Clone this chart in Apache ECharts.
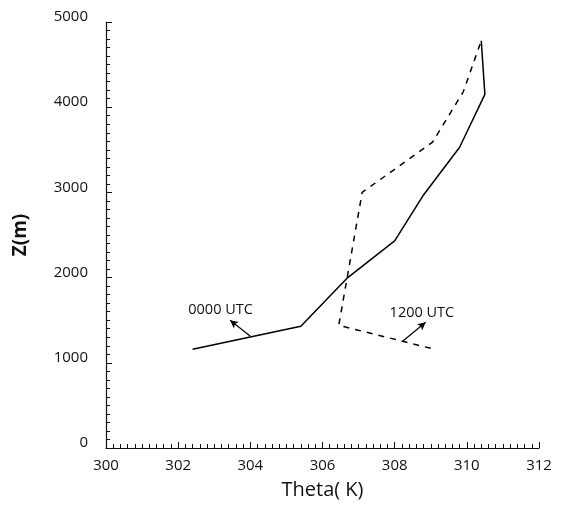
<!DOCTYPE html>
<html>
<head>
<meta charset="utf-8">
<script src="https://cdn.jsdelivr.net/npm/echarts@6/dist/echarts.min.js"></script>
<style>
  html, body { margin: 0; padding: 0; background: #fff; }
  #chart { width: 563px; height: 505px; }
</style>
</head>
<body>
<div id="chart"></div>
<script>
// Potential temperature profiles (Theta in K vs height Z in m)
const profile0000 = [
  [302.4, 1160], [305.4, 1430], [306.7, 2000], [308.0, 2430],
  [308.8, 2970], [309.8, 3530], [310.5, 4150], [310.4, 4780]
];
const profile1200 = [
  [309.0, 1170], [306.45, 1440], [307.1, 3000], [309.05, 3590],
  [309.9, 4180], [310.4, 4780]
];

// Annotation labels and their pointer arrows (data coordinates)
const labelNames = ['0000 UTC', '1200 UTC'];
const labelAnchors = [[302.28, 1616], [307.86, 1581]];
const arrowFrom = [[304.0, 1311], [308.22, 1253]];
const arrowTo = [[303.44, 1499], [308.86, 1475]];

const xTicks = [300, 312, 2];
const yTicks = [0, 5000, 1000];

const font = 'Open Sans';
const chart = echarts.init(document.getElementById('chart'));

function arrow(i) {
  return {
    silent: true,
    symbol: ['none', 'arrow'],
    symbolSize: [6, 8],
    label: { show: false },
    lineStyle: { color: '#000', width: 1.2, type: 'solid' },
    data: [[{ coord: arrowFrom[i] }, { coord: arrowTo[i] }]]
  };
}

chart.setOption({
  animation: false,
  grid: { left: 106, right: 24, top: 22, bottom: 54 },
  xAxis: {
    type: 'value', min: xTicks[0], max: xTicks[1], interval: xTicks[2],
    name: 'Theta( K)', nameLocation: 'middle', nameGap: 32,
    nameTextStyle: { fontFamily: font, fontSize: 20, color: '#111' },
    axisLine: { onZero: false, lineStyle: { color: '#111', width: 1.2 } },
    axisTick: { inside: true, length: 6, lineStyle: { color: '#111' } },
    minorTick: { show: true, splitNumber: 10, length: 4, lineStyle: { color: '#111' } },
    axisLabel: { fontFamily: font, fontSize: 15, color: '#111', margin: 10 },
    splitLine: { show: false }
  },
  yAxis: {
    type: 'value', min: yTicks[0], max: yTicks[1], interval: yTicks[2],
    name: 'Z(m)', nameLocation: 'middle', nameGap: 76,
    nameTextStyle: { fontFamily: font, fontSize: 19, fontWeight: 'bold', color: '#111' },
    axisLine: { show: true, lineStyle: { color: '#111', width: 1.2 } },
    axisTick: { show: true, inside: true, length: 6, lineStyle: { color: '#111' } },
    minorTick: { show: true, splitNumber: 10, length: 4, lineStyle: { color: '#111' } },
    axisLabel: { fontFamily: font, fontSize: 15, color: '#111', margin: 18,
                 formatter: v => String(v),
                 verticalAlign: 'bottom', lineHeight: 10 },
    splitLine: { show: false }
  },
  series: [
    {
      name: labelNames[0], type: 'line', data: profile0000,
      symbol: 'none', lineStyle: { color: '#000', width: 1.5 },
      markLine: arrow(0)
    },
    {
      name: labelNames[1], type: 'line', data: profile1200,
      symbol: 'none', lineStyle: { color: '#000', width: 1.5, type: [6, 6] },
      markLine: arrow(1)
    }
  ]
});

// Place the text annotations at their data anchors
chart.setOption({
  graphic: labelNames.map((t, i) => {
    const p = chart.convertToPixel({ gridIndex: 0 }, labelAnchors[i]);
    return {
      type: 'text', x: p[0], y: p[1],
      style: { text: t, fontFamily: font, fontSize: 14.5, fill: '#111',
               verticalAlign: 'middle' }
    };
  })
});
</script>
</body>
</html>
